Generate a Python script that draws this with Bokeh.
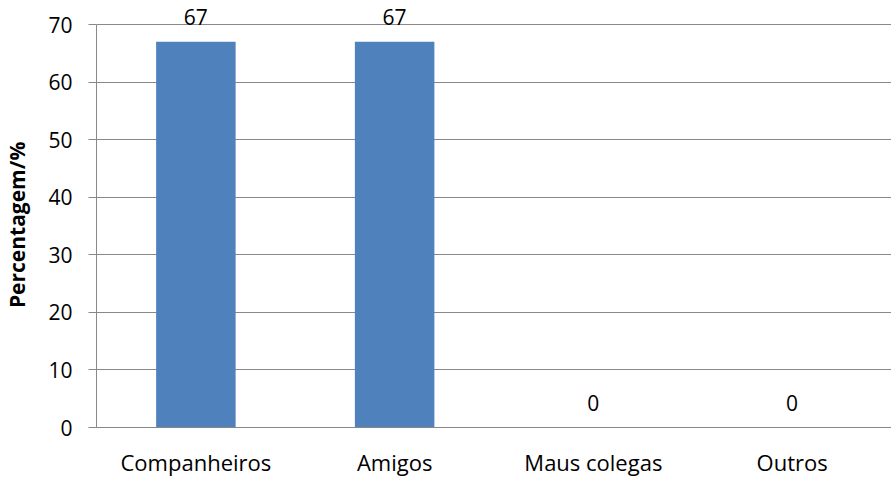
from bokeh.plotting import figure
from bokeh.models import ColumnDataSource, LabelSet, Range1d, FixedTicker
from bokeh.core.properties import value
from bokeh.embed import file_html
from bokeh.resources import INLINE

categories = ["Companheiros", "Amigos", "Maus colegas", "Outros"]
values = [67, 67, 0, 0]
labels = ["67", "67", "0", "0"]
y_ticks = [0, 10, 20, 30, 40, 50, 60, 70]
y_title = "Percentagem/%"

FONT = "Open Sans"
GREY = "#888888"

src = ColumnDataSource(dict(cat=categories, val=values, lab=labels))

# frame spans figure y 0..427 ; 70 sits at y=24 -> range end = 70*427/403
p = figure(x_range=categories, y_range=Range1d(0, 74.17), width=891, height=479,
           output_backend="svg", toolbar_location=None,
           min_border_left=96, min_border_right=0, min_border_top=0, min_border_bottom=52)

p.vbar(x="cat", top="val", width=0.4, source=src, color="#4F81BD", line_color=None)

p.add_layout(LabelSet(x="cat", y="val", text="lab", source=src, text_align="center",
                      text_baseline="alphabetic", y_offset=17, text_font=value(FONT),
                      text_font_size="21px", text_color="#000000"))

p.outline_line_color = None
p.xgrid.grid_line_color = None
p.ygrid.grid_line_color = GREY
p.ygrid.grid_line_width = 1

p.yaxis.ticker = FixedTicker(ticks=y_ticks)
p.yaxis.bounds = (0, 70)
p.yaxis.axis_line_color = GREY
p.yaxis.major_tick_line_color = GREY
p.yaxis.major_tick_out = 8
p.yaxis.major_tick_in = 0
p.yaxis.minor_tick_line_color = None
p.yaxis.major_label_text_font = FONT
p.yaxis.major_label_text_font_size = "21px"
p.yaxis.major_label_text_color = "#000000"
p.yaxis.major_label_standoff = 16
# trailing no-break spaces shift the rotated title down to centre it on the 0-70 span
p.yaxis.axis_label = y_title + "\u00a0" * 4
p.yaxis.axis_label_text_font = FONT
p.yaxis.axis_label_text_font_style = "bold"
p.yaxis.axis_label_text_font_size = "21px"
p.yaxis.axis_label_text_color = "#000000"
p.yaxis.axis_label_standoff = 14

p.xaxis.axis_line_color = GREY
p.xaxis.major_tick_line_color = None
p.xaxis.major_tick_out = 0
p.xaxis.major_tick_in = 0
p.xaxis.major_label_text_font = FONT
p.xaxis.major_label_text_font_size = "22px"
p.xaxis.major_label_text_color = "#000000"
p.xaxis.major_label_standoff = 19

open("out.html", "w").write(file_html(p, INLINE))
